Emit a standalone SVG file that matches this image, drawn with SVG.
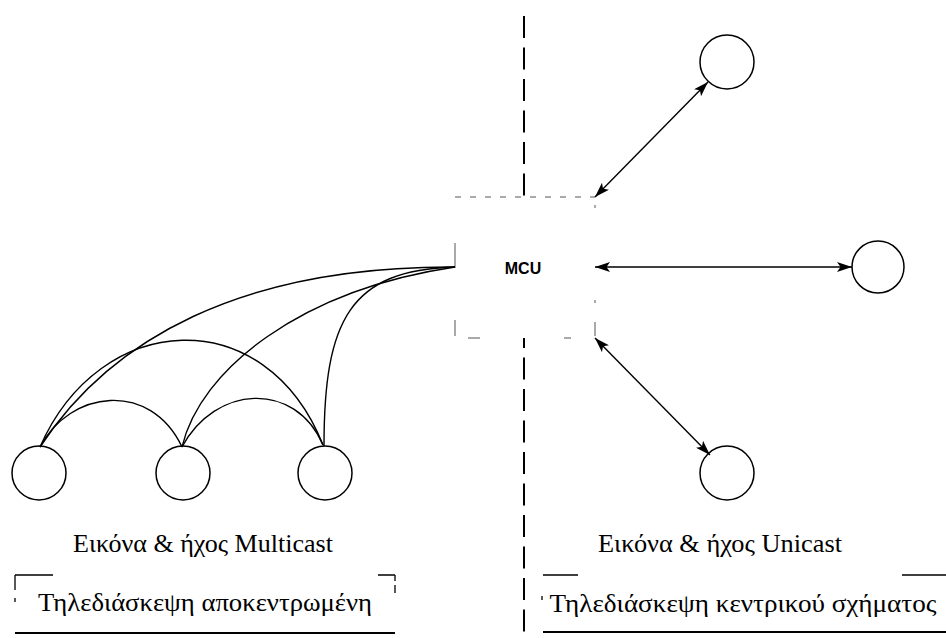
<svg xmlns="http://www.w3.org/2000/svg" width="946" height="638" viewBox="0 0 946 638">
  <style>
    .node { fill: none; stroke: #000; stroke-width: 1.5; }
    .link { fill: none; stroke: #000; stroke-width: 1.4; }
    .arrow { fill: none; stroke: #000; stroke-width: 1.4; }
    .divider { fill: none; stroke: #000; stroke-width: 2; stroke-dasharray: 22 9.5; }
    .frame { fill: none; stroke: #000; stroke-width: 1.3; }
    .frame-base { fill: none; stroke: #000; stroke-width: 2; }
    .mcu-box { fill: none; stroke: #555; stroke-width: 1; }
    .label { font-family: "Liberation Serif", "DejaVu Serif", serif; font-size: 25px; fill: #000; text-anchor: middle; }
    .mcu-text { font-family: "Liberation Sans", Arial, sans-serif; font-size: 16px; font-weight: bold; fill: #000; text-anchor: middle; }
  </style>
  <defs>
    <marker id="head" viewBox="0 0 15 10" refX="15" refY="5" markerWidth="15" markerHeight="10" markerUnits="userSpaceOnUse" orient="auto-start-reverse">
      <path d="M0,0 L15,5 L0,10 L3.5,5 Z" fill="#000"/>
    </marker>
  </defs>
  <rect width="946" height="638" fill="#fff"/>

  <!-- vertical divider between the two schemes -->
  <g id="divider">
    <line class="divider" x1="524" y1="16" x2="524" y2="196"/>
    <line class="divider" x1="524" y1="338" x2="524" y2="638" stroke-dashoffset="12"/>
  </g>

  <!-- central MCU with its faint broken outline -->
  <g id="mcu">
    <path class="mcu-box" d="M455,197 H595" stroke-dasharray="6 9"/>
    <path class="mcu-box" d="M455,243 V268 M455,320 V336"/>
    <path class="mcu-box" d="M468,338 H480 M564,338 H571"/>
    <path class="mcu-box" d="M595,205 V208 M595,300 V303 M595,322 V336"/>
    <text class="mcu-text" x="523" y="274">MCU</text>
  </g>

  <!-- decentralised terminals -->
  <g id="node-m1"><circle class="node" cx="39" cy="473" r="27"/></g>
  <g id="node-m2"><circle class="node" cx="183" cy="473" r="27"/></g>
  <g id="node-m3"><circle class="node" cx="325" cy="473" r="27"/></g>

  <!-- centralised terminals -->
  <g id="node-u1"><circle class="node" cx="727" cy="62" r="27"/></g>
  <g id="node-u2"><circle class="node" cx="878" cy="267" r="26"/></g>
  <g id="node-u3"><circle class="node" cx="727" cy="473" r="27"/></g>

  <g id="connectors">
    <!-- multicast arcs -->
    <path class="link" d="M40,447 C110,340 240,266 455,267"/>
    <path class="link" d="M182,447 C200,370 300,290 455,267"/>
    <path class="link" d="M324,446 C324,320 350,270 455,267"/>
    <path class="link" d="M40,447 C100,310 265,300 323,445"/>
    <path class="link" d="M40,447 C70,390 150,380 182,447"/>
    <path class="link" d="M182,447 C215,385 295,380 323,445"/>
    <!-- unicast links -->
    <line class="arrow" x1="595" y1="197" x2="708" y2="82" marker-start="url(#head)" marker-end="url(#head)"/>
    <line class="arrow" x1="595" y1="267" x2="852" y2="267" marker-start="url(#head)" marker-end="url(#head)"/>
    <line class="arrow" x1="595" y1="338" x2="710" y2="455" marker-start="url(#head)" marker-end="url(#head)"/>
  </g>

  <!-- captions -->
  <g id="caption-multicast">
    <text class="label" x="203" y="552" textLength="260" lengthAdjust="spacingAndGlyphs">Εικόνα &amp; ήχος Multicast</text>
  </g>
  <g id="caption-unicast">
    <text class="label" x="720" y="552" textLength="244" lengthAdjust="spacingAndGlyphs">Εικόνα &amp; ήχος Unicast</text>
  </g>

  <!-- decentralised title frame -->
  <g id="title-left">
    <path class="frame" d="M15,575 H53 M378,575 H395 M15,575 V590 M15,598 V602 M395,575 V581 M395,585 V593"/>
    <line class="frame-base" x1="15" y1="633" x2="395" y2="633"/>
    <text class="label" x="205" y="611" textLength="334" lengthAdjust="spacingAndGlyphs">Τηλεδιάσκεψη αποκεντρωμένη</text>
  </g>

  <!-- centralised title frame -->
  <g id="title-right">
    <path class="frame" d="M543,575 H578 M902,575 H946 M542,596 V600"/>
    <line class="frame-base" x1="543" y1="632" x2="946" y2="632"/>
    <text class="label" x="743" y="612" textLength="387" lengthAdjust="spacingAndGlyphs">Τηλεδιάσκεψη κεντρικού σχήματος</text>
  </g>
</svg>
